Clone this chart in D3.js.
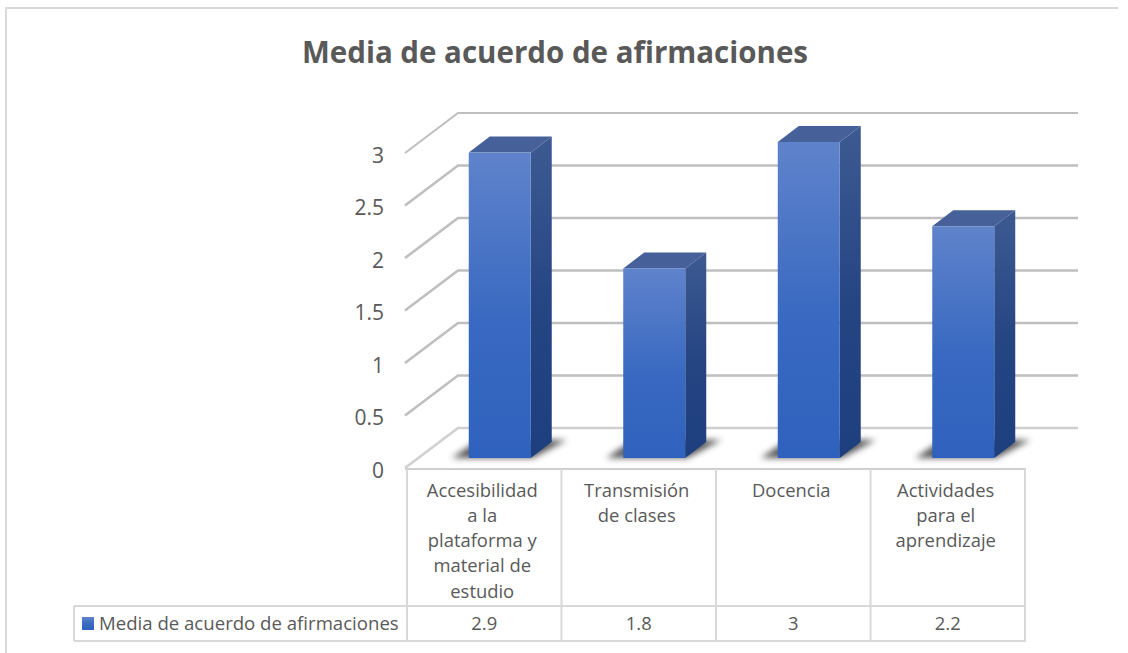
<!DOCTYPE html>
<html>
<head>
<meta charset="utf-8">
<script src="https://cdnjs.cloudflare.com/ajax/libs/d3/7.8.5/d3.min.js"></script>
<style>
html, body { margin: 0; padding: 0; background: #fff; }
svg { display: block; }
text { font-family: "Open Sans", "Noto Sans", sans-serif; fill: #595959; }
</style>
</head>
<body>
<div id="chart"></div>
<script>
//Datos
const categories = ['Accesibilidad a la plataforma y material de estudio', 'Transmisión de clases', 'Docencia', 'Actividades para el aprendizaje'];
const categoryLines = [
    ['Accesibilidad', 'a la', 'plataforma y', 'material de', 'estudio'],
    ['Transmisión', 'de clases'],
    ['Docencia'],
    ['Actividades', 'para el', 'aprendizaje']
];
const values = [2.9, 1.8, 3, 2.2];
const valueLabels = ['2.9', '1.8', '3', '2.2'];
const yTicks = [0, 0.5, 1, 1.5, 2, 2.5, 3];
const seriesName = 'Media de acuerdo de afirmaciones';

const width = 1128, height = 653;
const depth = {x: 53, y: 40};
const barDepth = {x: 21, y: 16};

let svg = d3.select('#chart').append('svg')
    .attr('width', width)
    .attr('height', height);

let defs = svg.append('defs');

function addGradient(id, top, bottom) {
    let g = defs.append('linearGradient')
        .attr('id', id)
        .attr('x1', 0).attr('y1', 0).attr('x2', 0).attr('y2', 1);
    g.append('stop').attr('offset', '0%').attr('stop-color', top);
    g.append('stop').attr('offset', '55%').attr('stop-color', d3.interpolateRgb(top, bottom)(0.8));
    g.append('stop').attr('offset', '100%').attr('stop-color', bottom);
}
addGradient('front', '#5F83CB', '#2F62BE');
addGradient('side', '#3D5A92', '#1E3F7E');
addGradient('legend', '#5F83CB', '#2F62BE');

defs.append('filter').attr('id', 'blur')
    .attr('x', '-30%').attr('y', '-60%').attr('width', '160%').attr('height', '220%')
    .append('feGaussianBlur').attr('stdDeviation', 3.2);

// Marco exterior
svg.append('path')
    .attr('d', `M6,653V8H1118`)
    .attr('fill', 'none')
    .attr('stroke', '#d9d9d9')
    .attr('stroke-width', 2);

// Titulo
svg.append('text')
    .attr('x', 555)
    .attr('y', 63)
    .attr('text-anchor', 'middle')
    .style('font-size', '29.5px')
    .style('font-weight', 700)
    .text('Media de acuerdo de afirmaciones');

// Escalas: y sobre la pared del fondo, x sobre la tabla
let y = d3.scaleLinear().domain([0, 3]).range([468, 153]);
let x = d3.scaleBand()
    .domain(categories)
    .range([407, 1025]);

// Rejilla: pared lateral + pared del fondo
let grid = svg.append('g');
grid.selectAll('path')
    .data(yTicks)
    .enter()
    .append('path')
    .attr('d', function(d) {
        return `M${405},${y(d)}L${405 + depth.x},${y(d) - depth.y}H1078`;
    })
    .attr('fill', 'none')
    .attr('stroke', function(d) { return d == 0 ? '#d0d0d0' : '#bfbfbf'; })
    .attr('stroke-width', function(d, i) { return i == yTicks.length - 1 ? 2 : 2.6; });

// Etiquetas eje y
svg.selectAll('.ylabel')
    .data(yTicks)
    .enter()
    .append('text')
    .attr('class', 'ylabel')
    .attr('x', 384)
    .attr('y', function(d) { return y(d) + 9.5; })
    .attr('text-anchor', 'end')
    .style('font-size', '21px')
    .text(function(d) { return d; });

// Barras
let barW = 62;
function barX(d, i) { return x(categories[i]) + (x.bandwidth() - barW) / 2 + 15.5; }
let barY = d3.scaleLinear().domain([0, 3]).range([458, 142]);

let bars = svg.selectAll('.bar')
    .data(values)
    .enter()
    .append('g')
    .attr('class', 'bar');

// sombra
bars.append('path')
    .attr('d', function(d, i) {
        let x0 = barX(d, i), b = barY(0);
        return `M${x0 - 17},${b}H${x0 + barW + 2}L${x0 + barW + 36},${b - 18}H${x0 + 10}Z`;
    })
    .attr('fill', '#3a3a3a')
    .attr('opacity', 0.85)
    .attr('filter', 'url(#blur)');

// tapa
bars.append('path')
    .attr('d', function(d, i) {
        let x0 = barX(d, i), t = barY(d);
        return `M${x0},${t}L${x0 + barDepth.x},${t - barDepth.y}H${x0 + barW + barDepth.x}L${x0 + barW},${t}Z`;
    })
    .attr('fill', '#46619A');

// lateral
bars.append('path')
    .attr('d', function(d, i) {
        let x0 = barX(d, i) + barW, t = barY(d), b = barY(0);
        return `M${x0},${t}L${x0 + barDepth.x},${t - barDepth.y}V${b - barDepth.y}L${x0},${b}Z`;
    })
    .attr('fill', 'url(#side)');

// frente
bars.append('rect')
    .attr('x', barX)
    .attr('y', function(d) { return barY(d); })
    .attr('width', barW)
    .attr('height', function(d) { return barY(0) - barY(d); })
    .attr('fill', 'url(#front)');

// Tabla de datos
let table = svg.append('g')
    .attr('fill', 'none')
    .attr('stroke', '#d9d9d9')
    .attr('stroke-width', 2);

let tableTop = 469, rowTop = 606, rowBottom = 641;
table.append('path').attr('d', `M405,${tableTop}H1026`).attr('stroke', '#cfcfcf');
table.append('path').attr('d', `M74,${rowTop}H1025M74,${rowBottom}H1026M74,${rowTop}V${rowBottom}`);
x.domain().concat(['end']).forEach(function(c) {
    let px = c == 'end' ? x.range()[1] : x(c);
    table.append('path').attr('d', `M${px},${tableTop}V${rowBottom}`);
});

// Texto de categorias
svg.selectAll('.cat')
    .data(categoryLines)
    .enter()
    .append('g')
    .attr('class', 'cat')
    .each(function(lines, i) {
        d3.select(this).selectAll('text')
            .data(lines)
            .enter()
            .append('text')
            .attr('x', x(categories[i]) + x.bandwidth() / 2 - 2)
            .attr('y', function(l, j) { return 496.5 + j * 25.3; })
            .attr('text-anchor', 'middle')
            .style('font-size', '18.4px')
            .text(function(l) { return l; });
    });

// Fila de valores
svg.selectAll('.val')
    .data(valueLabels)
    .enter()
    .append('text')
    .attr('class', 'val')
    .attr('x', function(d, i) { return x(categories[i]) + x.bandwidth() / 2; })
    .attr('y', 630)
    .attr('text-anchor', 'middle')
    .style('font-size', '18.4px')
    .text(function(d) { return d; });

// Leyenda
svg.append('rect')
    .attr('x', 82)
    .attr('y', 617)
    .attr('width', 12)
    .attr('height', 13)
    .attr('fill', 'url(#legend)');

svg.append('text')
    .attr('x', 99)
    .attr('y', 630)
    .style('font-size', '18.6px')
    .text(seriesName);
</script>
</body>
</html>
